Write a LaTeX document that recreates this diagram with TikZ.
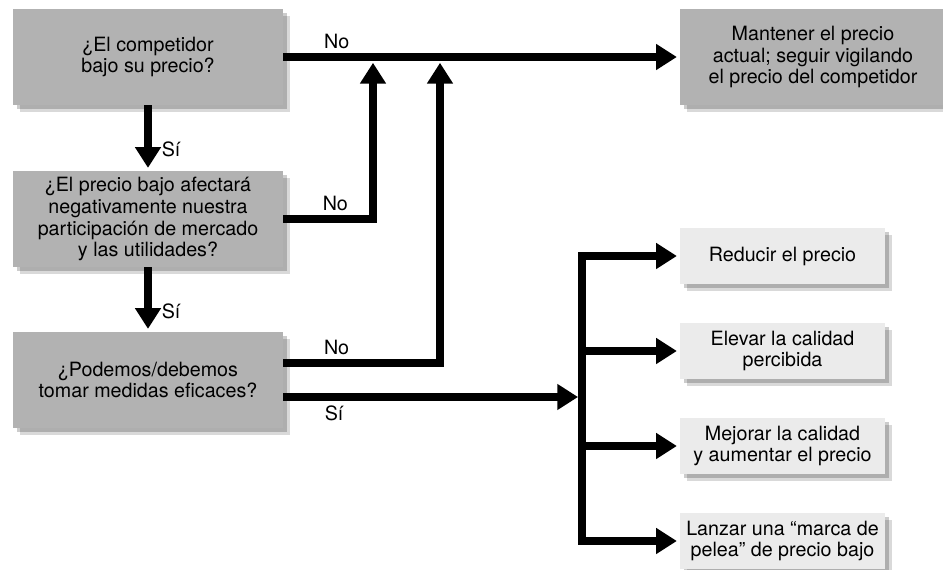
\documentclass[tikz,border=0pt]{standalone}
\usepackage{fontspec}
\setmainfont{TeX Gyre Heros}
\usetikzlibrary{arrows.meta,shadows,calc}
\definecolor{grisosc}{gray}{0.70}
\definecolor{grisclaro}{gray}{0.92}

\begin{document}
\begin{tikzpicture}[x=0.025cm, y=-0.025cm,
        font=\fontsize{14}{15.6}\selectfont,
        sombra/.style={drop shadow={shadow xshift=3pt, shadow yshift=-3pt, opacity=.2, fill=black},
                       drop shadow={shadow xshift=5pt, shadow yshift=-5pt, opacity=.15, fill=black}},
        caja/.style={fill=grisosc, sombra, align=center, inner sep=2pt, minimum width=6.75cm, minimum height=2.4cm},
        clara/.style={fill=grisclaro, sombra, align=center, inner sep=2pt, minimum width=5.125cm, minimum height=1.4cm},
        linea/.style={line width=0.2cm},
        flecha/.style={linea, -{Triangle[length=0.52cm, width=0.62cm]}, shorten >=2pt}]
    \useasboundingbox (0,0) rectangle (943,570);

    \node[caja] (q1) at (148,57) {¿El competidor\\bajo su precio?};
    \node[caja] (q2) at (148,219) {¿El precio bajo afectará\\negativamente nuestra\\participación de mercado\\y las utilidades?};
    \node[caja] (q3) at (148,380) {¿Podemos/debemos\\tomar medidas eficaces?};
    \node[caja, minimum width=6.65cm] (mant) at (813,57) {Mantener el precio\\actual; seguir vigilando\\el precio del competidor};

    \node[clara] (r1) at (782.5,256) {Reducir el precio};
    \node[clara] (r2) at (782.5,351) {Elevar la calidad\\percibida};
    \node[clara] (r3) at (782.5,446) {Mejorar la calidad\\y aumentar el precio};
    \node[clara] (r4) at (782.5,541) {Lanzar una “marca de\\pelea” de precio bajo};

    \coordinate (j1) at (373,60);
    \coordinate (j2) at (440,60);
    \coordinate (bus) at (582,397);

    % preguntas hacia abajo
    \draw[flecha] (q1) -- node[pos=.68, anchor=west, inner sep=0, xshift=7pt] {Sí} (q2);
    \draw[flecha] (q2) -- node[pos=.68, anchor=west, inner sep=0, xshift=7pt] {Sí} (q3);

    % ramas "No"
    \draw[flecha] (q1.east) -- node[pos=.135, above] {No} (mant.west);
    \draw[flecha] (q2.east) -| node[pos=.29, above] {No} (j1);
    \draw[flecha] ($(q3.east)+(0,-17)$) -| node[pos=.17, above] {No} (j2);

    % rama "Sí"
    \draw[flecha, shorten >=2.8pt] ($(q3.east)+(0,17)$) -- node[pos=.17, below] {Sí} (bus);
    \draw[linea, line cap=rect] (bus |- r1) -- (bus |- r4);
    \foreach \r in {r1,r2,r3,r4}
        \draw[flecha] (bus |- \r) -- (\r);
\end{tikzpicture}
\end{document}
